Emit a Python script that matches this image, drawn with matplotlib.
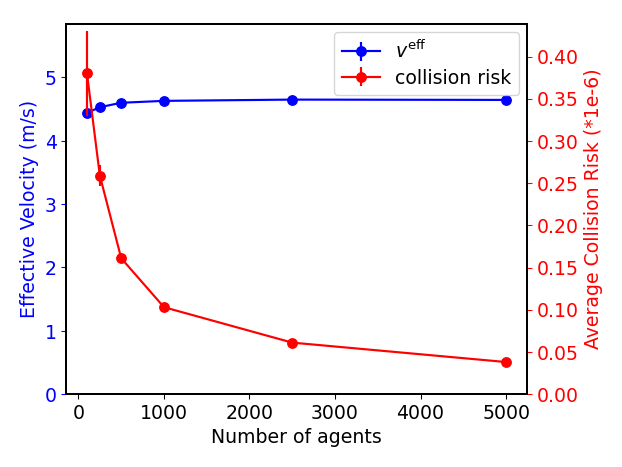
import matplotlib
matplotlib.use("Agg")
import matplotlib.pyplot as plt

agents = [100, 250, 500, 1000, 2500, 5000]
velocity = [4.44, 4.53, 4.60, 4.63, 4.65, 4.645]
velocity_err = [0.02, 0.02, 0.01, 0.01, 0.01, 0.01]
risk = [0.380, 0.259, 0.161, 0.103, 0.061, 0.038]
risk_err = [0.050, 0.013, 0.003, 0.002, 0.001, 0.001]

fs = 14
plt.rcParams['font.size'] = fs
plt.rcParams['axes.linewidth'] = 1.4

fig, ax1 = plt.subplots(figsize=(6.4, 4.8), dpi=97.34)
fig.subplots_adjust(left=0.106, right=0.846, bottom=0.156, top=0.949)

l1 = ax1.errorbar(agents, velocity, yerr=velocity_err, color='blue', marker='o',
                  markersize=7, linewidth=1.6, label=r'$v^{\mathrm{eff}}$')
ax1.set_ylim(0, 5.85)
ax1.set_xlabel('Number of agents', fontsize=fs)
ax1.set_ylabel('Effective Velocity (m/s)', color='blue', fontsize=fs)
ax1.tick_params(axis='y', colors='blue', labelsize=fs)
ax1.tick_params(axis='x', labelsize=fs)
ax1.set_xticks([0, 1000, 2000, 3000, 4000, 5000])

ax2 = ax1.twinx()
l2 = ax2.errorbar(agents, risk, yerr=risk_err, color='red', marker='o',
                  markersize=7, linewidth=1.6, label='collision risk')
ax2.set_ylim(0, 0.439)
ax2.set_yticks([0.0, 0.05, 0.10, 0.15, 0.20, 0.25, 0.30, 0.35, 0.40])
ax2.set_ylabel('Average Collision Risk (*1e-6)', color='red', fontsize=fs)
ax2.tick_params(axis='y', colors='red', labelsize=fs)
ax2.spines['right'].set_color('black')
ax2.spines['left'].set_color('black')

ax1.legend([l1, l2], [r'$v^{\mathrm{eff}}$', 'collision risk'], loc='upper right',
           fontsize=fs, labelspacing=0.35, borderaxespad=0.45)

fig.savefig('out.png', dpi=97.34)
